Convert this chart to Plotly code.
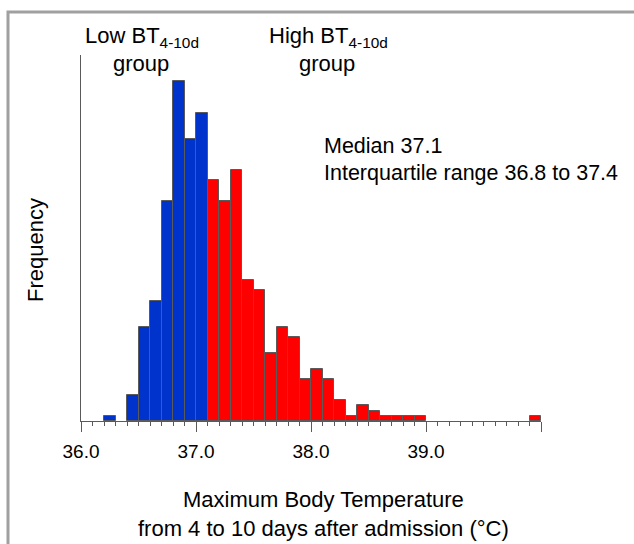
import plotly.graph_objects as go

# ---- data ----
low_bins = [36.2, 36.4, 36.5, 36.6, 36.7, 36.8, 36.9, 37.0]
low_counts = [1, 5, 18, 23, 42, 65, 54, 59]
high_bins = [37.1, 37.2, 37.3, 37.4, 37.5, 37.6, 37.7, 37.8, 37.9, 38.0,
             38.1, 38.2, 38.3, 38.4, 38.5, 38.6, 38.7, 38.8, 38.9, 39.9]
high_counts = [46, 42, 48, 27, 25, 13, 18, 16, 8, 10,
               8, 4, 1, 3, 2, 1, 1, 1, 1, 1]
bin_width = 0.1
major_ticks = [36, 37, 38, 39, 40]
major_labels = ["36.0", "37.0", "38.0", "39.0", ""]

# ---- layout geometry (pixels) ----
W, H = 634, 544
L, R, T, B = 81, 93, 55, 123
pw, ph = W - L - R, H - T - B


def px(x):
    return (x - L) / pw


def py(y):
    return (H - B - y) / ph


FONT = "Liberation Sans, Arial, sans-serif"
edge = dict(color="#5a5a5a", width=1)

fig = go.Figure()
fig.add_trace(go.Bar(x=low_bins, y=low_counts, width=bin_width, offset=0,
                     marker=dict(color="#0033cc", line=edge), showlegend=False))
fig.add_trace(go.Bar(x=high_bins, y=high_counts, width=bin_width, offset=0,
                     marker=dict(color="#ff0000", line=edge), showlegend=False))

fig.update_layout(
    width=W, height=H,
    margin=dict(l=L, r=R, t=T, b=B, pad=0),
    paper_bgcolor="white", plot_bgcolor="white",
    font=dict(family=FONT, size=20, color="black"),
    bargap=0,
    xaxis=dict(range=[36, 40], showline=True, linecolor="#5a5a5a", linewidth=1,
               showgrid=False, zeroline=False, ticks="outside", ticklen=10,
               tickcolor="#5a5a5a", tickwidth=1,
               tickvals=major_ticks, ticktext=major_labels,
               tickfont=dict(size=19), ticklabelstandoff=3,
               minor=dict(dtick=0.1, tick0=36, ticks="outside", ticklen=4,
                          tickcolor="#5a5a5a", tickwidth=1, showgrid=False)),
    yaxis=dict(range=[0, 70], showline=True, linecolor="#5a5a5a", linewidth=1,
               showgrid=False, zeroline=False, showticklabels=False, ticks=""),
)

ann = [
    dict(x=px(323), y=py(500), text="Maximum Body Temperature", size=22),
    dict(x=px(323), y=py(528), text="from 4 to 10 days after admission (°C)", size=22),
    dict(x=px(141.5), y=py(37), text="Low BT<sub>4-10d</sub>", size=22),
    dict(x=px(141), y=py(63), text="group", size=22),
    dict(x=px(328), y=py(37), text="High BT<sub>4-10d</sub>", size=22),
    dict(x=px(327), y=py(63), text="group", size=22),
]
for a in ann:
    fig.add_annotation(x=a["x"], y=a["y"], xref="paper", yref="paper",
                       text=a["text"], showarrow=False, xanchor="center",
                       yanchor="middle", font=dict(size=a["size"], family=FONT))

fig.add_annotation(x=px(322), y=py(146), xref="paper", yref="paper",
                   text="Median 37.1", showarrow=False, xanchor="left",
                   yanchor="middle", font=dict(size=21.5, family=FONT))
fig.add_annotation(x=px(322), y=py(173), xref="paper", yref="paper",
                   text="Interquartile range 36.8 to 37.4", showarrow=False,
                   xanchor="left", yanchor="middle", font=dict(size=21.5, family=FONT))
fig.add_annotation(x=px(35), y=py(250), xref="paper", yref="paper",
                   text="Frequency", showarrow=False, textangle=-90,
                   xanchor="center", yanchor="middle", font=dict(size=22, family=FONT))

# decorative frame (left and top gray border)
fig.add_shape(type="path", xref="paper", yref="paper",
              path=f"M {px(8)} {py(H + 5)} L {px(8)} {py(12)} L {px(W + 5)} {py(12)}",
              line=dict(color="#a0a0a0", width=3))

fig.write_html("out.html",
               config={"displayModeBar": False},
               post_script="document.body.style.margin='0';"
                           "document.body.style.overflow='hidden';")
